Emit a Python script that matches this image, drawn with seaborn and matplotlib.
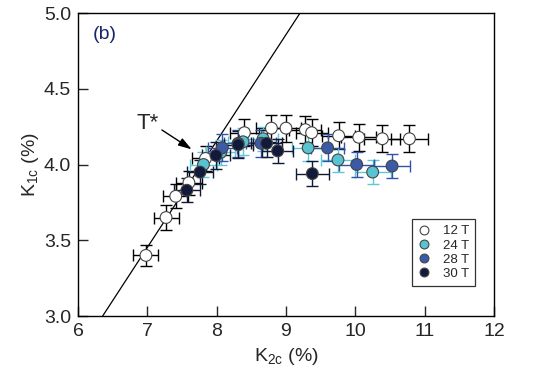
import pandas as pd
import numpy as np
import matplotlib
matplotlib.use("Agg")
import matplotlib.pyplot as plt
import seaborn as sns

# ---- data ----
x12 = [6.98, 7.27, 7.41, 7.60, 7.84, 8.40, 8.79, 9.00, 9.28, 9.37, 9.76, 10.05, 10.39, 10.78]
y12 = [3.40, 3.65, 3.79, 3.88, 4.04, 4.21, 4.24, 4.24, 4.23, 4.21, 4.19, 4.18, 4.17, 4.17]
xe12 = [0.18, 0.18, 0.18, 0.19, 0.20, 0.21, 0.22, 0.22, 0.23, 0.23, 0.24, 0.25, 0.26, 0.27]
ye12 = [0.07, 0.08, 0.08, 0.08, 0.08, 0.09, 0.09, 0.09, 0.09, 0.09, 0.09, 0.09, 0.09, 0.09]

x24 = [7.81, 8.06, 8.38, 8.67, 9.32, 9.75, 10.25]
y24 = [4.00, 4.08, 4.15, 4.17, 4.11, 4.03, 3.95]
xe24 = [0.20, 0.21, 0.22, 0.22, 0.24, 0.25, 0.26]
ye24 = [0.08, 0.08, 0.09, 0.08, 0.09, 0.08, 0.08]

x28 = [8.08, 8.31, 8.64, 9.60, 10.02, 10.53]
y28 = [4.11, 4.14, 4.14, 4.11, 4.00, 3.99]
xe28 = [0.21, 0.21, 0.22, 0.24, 0.25, 0.26]
ye28 = [0.09, 0.09, 0.09, 0.09, 0.08, 0.08]

x30 = [7.57, 7.76, 7.99, 8.31, 8.72, 8.88, 9.38]
y30 = [3.83, 3.95, 4.06, 4.13, 4.14, 4.09, 3.94]
xe30 = [0.19, 0.19, 0.20, 0.21, 0.22, 0.22, 0.24]
ye30 = [0.08, 0.08, 0.09, 0.09, 0.09, 0.08, 0.08]

fields = ["12 T", "24 T", "28 T", "30 T"]
line_x = [6.356, 9.203]
line_y = [3.0, 5.0]

# ---- style ----
sns.set_style("ticks")
plt.rcParams['font.family'] = ['Liberation Sans', 'DejaVu Sans']
plt.rcParams['mathtext.fontset'] = 'custom'
plt.rcParams['mathtext.rm'] = 'Liberation Sans'
plt.rcParams['mathtext.it'] = 'Liberation Sans:italic'

face = {"12 T": "white", "24 T": "#58c4d2", "28 T": "#3b5ba8", "30 T": "#121a3c"}
bar = {"12 T": "black", "24 T": "#5cc8da", "28 T": "#3352aa", "30 T": "#111833"}

df = pd.concat([
    pd.DataFrame({"K2c": x12, "K1c": y12, "xe": xe12, "ye": ye12, "field": "12 T"}),
    pd.DataFrame({"K2c": x24, "K1c": y24, "xe": xe24, "ye": ye24, "field": "24 T"}),
    pd.DataFrame({"K2c": x28, "K1c": y28, "xe": xe28, "ye": ye28, "field": "28 T"}),
    pd.DataFrame({"K2c": x30, "K1c": y30, "xe": xe30, "ye": ye30, "field": "30 T"}),
], ignore_index=True)

fig, ax = plt.subplots(figsize=(5.33, 3.85), dpi=100)
fig.subplots_adjust(left=0.1463, right=0.9268, top=0.9662, bottom=0.1792)

ax.plot(line_x, line_y, color="black", lw=0.9, zorder=1)

# error bars then markers, layered per field
for i, f in enumerate(fields):
    d = df[df["field"] == f]
    ax.errorbar(d["K2c"], d["K1c"], xerr=d["xe"], yerr=d["ye"], fmt="none",
                ecolor=bar[f], elinewidth=1.0, capsize=4.5, capthick=1.0, zorder=2 + 2 * i)

sns.scatterplot(data=df, x="K2c", y="K1c", hue="field", hue_order=fields,
                palette=face, s=72, edgecolor="#444444", linewidth=0.8,
                zorder=10, ax=ax)

ax.set_xlim(6, 12)
ax.set_ylim(3.0, 5.0)
ax.set_xticks([6, 7, 8, 9, 10, 11, 12])
ax.set_yticks([3.0, 3.5, 4.0, 4.5, 5.0])
ax.set_yticklabels(["3.0", "3.5", "4.0", "4.5", "5.0"])
ax.tick_params(direction="in", length=7, width=1, labelsize=14, pad=5)
for s in ax.spines.values():
    s.set_linewidth(1.0)
    s.set_color("black")

ax.set_xlabel(r"K$_{\mathrm{2c}}$ (%)", fontsize=14, labelpad=4)
ax.set_ylabel(r"K$_{\mathrm{1c}}$ (%)", fontsize=14, labelpad=2)

ax.text(0.036, 0.93, "(b)", transform=ax.transAxes, fontsize=14,
        color="#1a2766", va="center", ha="left")
ax.annotate("", xy=(7.64, 4.10), xytext=(7.21, 4.228),
            arrowprops=dict(arrowstyle="-|>,head_length=0.8,head_width=0.25",
                            color="black", lw=1, shrinkA=0, shrinkB=0))
ax.text(6.84, 4.27, "T*", fontsize=16, va="center", ha="left")

leg = ax.legend(loc="lower right", bbox_to_anchor=(0.954, 0.099), borderaxespad=0,
                fontsize=9.5, frameon=True, fancybox=False, edgecolor="black",
                labelspacing=0.15, handlelength=1.0, handletextpad=0.9,
                borderpad=0.45, markerscale=0.75, title=None)
leg.get_frame().set_linewidth(0.9)

plt.savefig("out.png", dpi=100)
